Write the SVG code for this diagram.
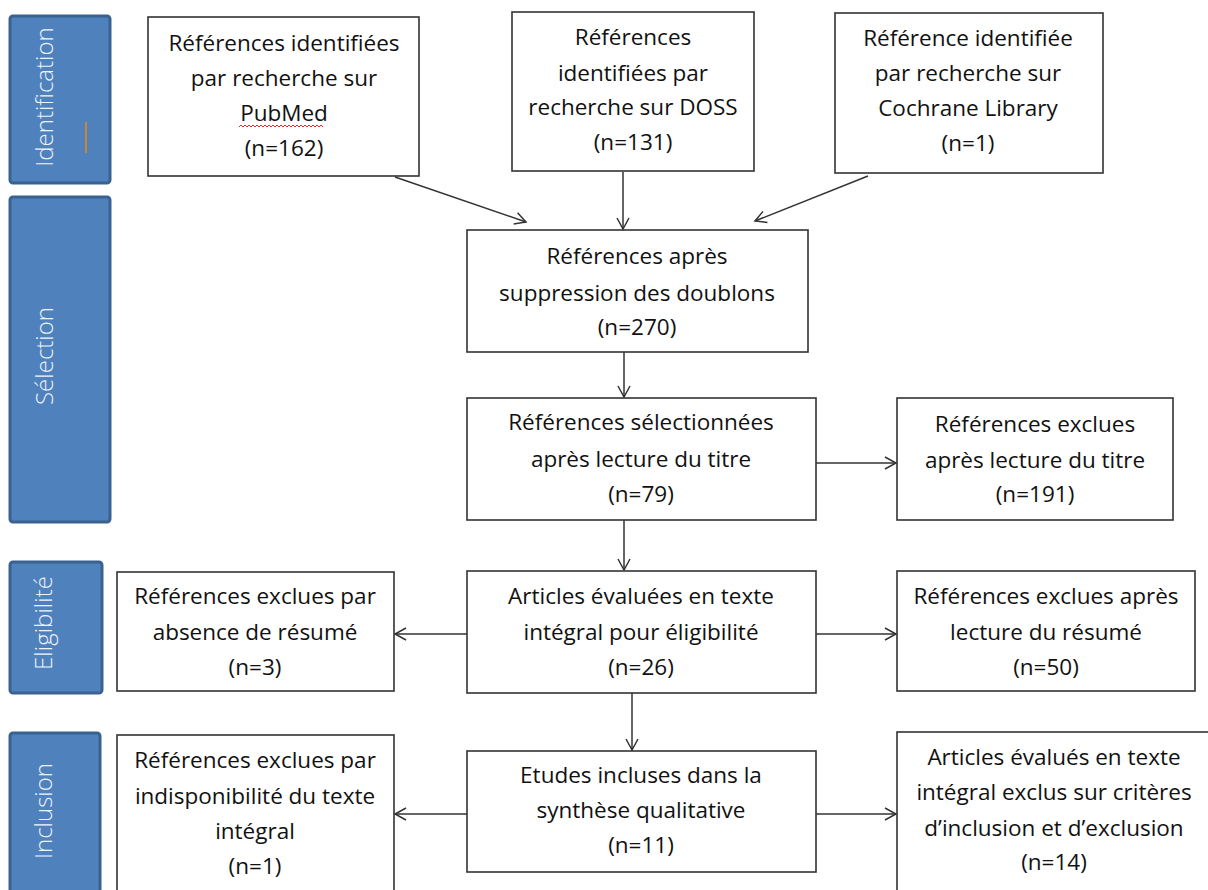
<svg xmlns="http://www.w3.org/2000/svg" width="1208" height="890" viewBox="0 0 1208 890">
<style>
.box{fill:#fff;stroke:#333;stroke-width:1.6}
.bar{fill:#4f81bd;stroke:#3a6290;stroke-width:3}
.t{font-family:"Open Sans","Liberation Sans",sans-serif;font-size:22.5px;fill:#111;text-anchor:middle}
.s{font-family:"Open Sans","Liberation Sans",sans-serif;font-size:24px;font-weight:300;fill:#eef3fa;text-anchor:middle}
.c{stroke:#333;stroke-width:1.5;fill:none;marker-end:url(#ah)}
</style>
<defs>
<marker id="ah" markerWidth="14" markerHeight="14" refX="12" refY="7" orient="auto" markerUnits="userSpaceOnUse">
<path d="M1,1 L12,7 L1,13" fill="none" stroke="#333" stroke-width="1.5"/>
</marker>
</defs>
<rect width="1208" height="890" fill="#fff"/>

<g id="bar-identification">
<rect class="bar" x="10" y="16" width="100" height="167" rx="3"/>
<text class="s" transform="translate(53,97) rotate(-90)">Identification</text>
<line x1="86" y1="122" x2="86" y2="153" stroke="#c8863a" stroke-width="2"/>
</g>
<g id="bar-selection">
<rect class="bar" x="10" y="197" width="100" height="325" rx="3"/>
<text class="s" transform="translate(53,356) rotate(-90)">Sélection</text>
</g>
<g id="bar-eligibilite">
<rect class="bar" x="10" y="562" width="92" height="131" rx="3"/>
<text class="s" transform="translate(52,623) rotate(-90)">Eligibilité</text>
</g>
<g id="bar-inclusion">
<rect class="bar" x="10" y="733" width="90" height="170" rx="3"/>
<text class="s" transform="translate(52,811) rotate(-90)">Inclusion</text>
</g>

<g id="pubmed">
<rect class="box" x="148" y="17" width="271" height="159"/>
<text class="t" x="284" y="51">Références identifiées</text>
<text class="t" x="284" y="86">par recherche sur</text>
<text class="t" x="284" y="121">PubMed</text>
<text class="t" x="284" y="156">(n=162)</text>
<path d="M239,127 l2,-2 l2,2 l2,-2 l2,2 l2,-2 l2,2 l2,-2 l2,2 l2,-2 l2,2 l2,-2 l2,2 l2,-2 l2,2 l2,-2 l2,2 l2,-2 l2,2 l2,-2 l2,2 l2,-2 l2,2 l2,-2 l2,2 l2,-2 l2,2 l2,-2 l2,2 l2,-2 l2,2 l2,-2 l2,2 l2,-2 l2,2 l2,-2 l2,2 l2,-2 l2,2 l2,-2 l2,2 l2,-2 l2,2" fill="none" stroke="#e02b2b" stroke-width="1"/>
</g>
<g id="doss">
<rect class="box" x="512" y="12" width="242" height="159"/>
<text class="t" x="633" y="45">Références</text>
<text class="t" x="633" y="81">identifiées par</text>
<text class="t" x="633" y="115">recherche sur DOSS</text>
<text class="t" x="633" y="150">(n=131)</text>
</g>
<g id="cochrane">
<rect class="box" x="835" y="13" width="268" height="160"/>
<text class="t" x="968" y="46">Référence identifiée</text>
<text class="t" x="968" y="81">par recherche sur</text>
<text class="t" x="968" y="116">Cochrane Library</text>
<text class="t" x="968" y="151">(n=1)</text>
</g>
<g id="doublons">
<rect class="box" x="467" y="230" width="341" height="122"/>
<text class="t" x="637" y="264">Références après</text>
<text class="t" x="637" y="301">suppression des doublons</text>
<text class="t" x="637" y="335">(n=270)</text>
</g>
<g id="titre">
<rect class="box" x="467" y="398" width="349" height="122"/>
<text class="t" x="641" y="430">Références sélectionnées</text>
<text class="t" x="641" y="467">après lecture du titre</text>
<text class="t" x="641" y="502">(n=79)</text>
</g>
<g id="excl-titre">
<rect class="box" x="897" y="398" width="276" height="122"/>
<text class="t" x="1035" y="432">Références exclues</text>
<text class="t" x="1035" y="468">après lecture du titre</text>
<text class="t" x="1035" y="502">(n=191)</text>
</g>
<g id="eligibilite">
<rect class="box" x="467" y="571" width="349" height="122"/>
<text class="t" x="641" y="604">Articles évaluées en texte</text>
<text class="t" x="641" y="640">intégral pour éligibilité</text>
<text class="t" x="641" y="675">(n=26)</text>
</g>
<g id="excl-absence">
<rect class="box" x="117" y="572" width="277" height="119"/>
<text class="t" x="255" y="604">Références exclues par</text>
<text class="t" x="255" y="640">absence de résumé</text>
<text class="t" x="255" y="675">(n=3)</text>
</g>
<g id="excl-resume">
<rect class="box" x="897" y="571" width="298" height="120"/>
<text class="t" x="1046" y="604">Références exclues après</text>
<text class="t" x="1046" y="640">lecture du résumé</text>
<text class="t" x="1046" y="675">(n=50)</text>
</g>
<g id="inclus">
<rect class="box" x="467" y="751" width="349" height="121"/>
<text class="t" x="641" y="783">Etudes incluses dans la</text>
<text class="t" x="641" y="818">synthèse qualitative</text>
<text class="t" x="641" y="853">(n=11)</text>
</g>
<g id="excl-indispo">
<rect class="box" x="117" y="735" width="277" height="170"/>
<text class="t" x="255" y="768">Références exclues par</text>
<text class="t" x="255" y="804">indisponibilité du texte</text>
<text class="t" x="255" y="839">intégral</text>
<text class="t" x="255" y="874">(n=1)</text>
</g>
<g id="excl-criteres">
<rect class="box" x="897" y="732" width="320" height="170"/>
<text class="t" x="1054" y="765">Articles évalués en texte</text>
<text class="t" x="1054" y="800">intégral exclus sur critères</text>
<text class="t" x="1054" y="836">d’inclusion et d’exclusion</text>
<text class="t" x="1054" y="870">(n=14)</text>
</g>

<g id="connectors">
<line class="c" x1="395" y1="177" x2="526" y2="222"/>
<line class="c" x1="623" y1="172" x2="623" y2="229"/>
<line class="c" x1="868" y1="176" x2="755" y2="221"/>
<line class="c" x1="624" y1="352" x2="624" y2="397"/>
<line class="c" x1="816" y1="463" x2="896" y2="463"/>
<line class="c" x1="624" y1="520" x2="624" y2="570"/>
<line class="c" x1="467" y1="634" x2="395" y2="634"/>
<line class="c" x1="816" y1="634" x2="896" y2="634"/>
<line class="c" x1="632" y1="693" x2="632" y2="750"/>
<line class="c" x1="467" y1="814" x2="395" y2="814"/>
<line class="c" x1="816" y1="814" x2="896" y2="814"/>
</g>
</svg>
